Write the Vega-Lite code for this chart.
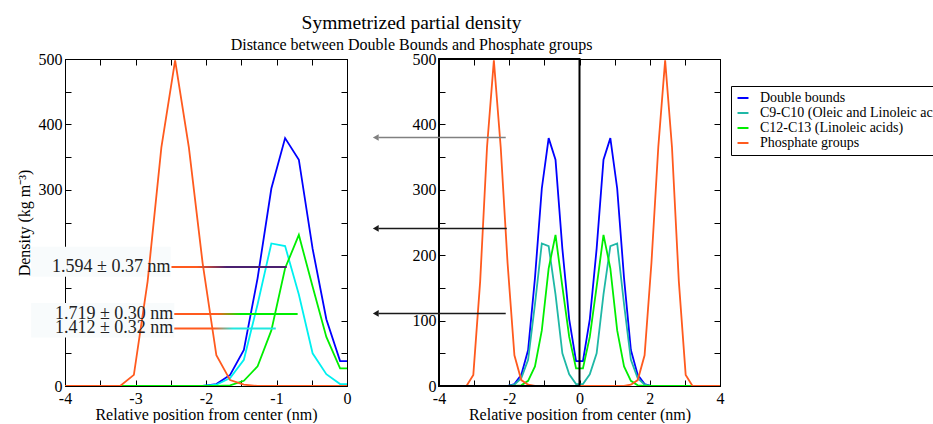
{
  "$schema": "https://vega.github.io/schema/vega-lite/v6.json",
  "background": "white",
  "padding": {"left": 15, "top": 13, "right": 0, "bottom": 0},
  "title": {
    "text": "Symmetrized partial density",
    "subtitle": "Distance between Double Bounds and Phosphate groups",
    "anchor": "start", "align": "center", "dx": 396, "frame": "bounds",
    "font": "Liberation Serif", "fontSize": 19.5, "fontWeight": "normal", "color": "black",
    "subtitleFont": "Liberation Serif", "subtitleFontSize": 16, "subtitleColor": "black", "subtitlePadding": 3,
    "offset": -3
  },
  "config": {
    "view": {"stroke": "black", "strokeWidth": 1},
    "axis": {
      "labelFont": "Liberation Serif", "labelFontSize": 16, "labelColor": "black",
      "titleFont": "Liberation Serif", "titleFontSize": 16, "titleFontWeight": "normal", "titleColor": "black",
      "domainColor": "black", "tickColor": "black", "tickSize": -6, "grid": false,
      "labelFlush": false, "labelOverlap": false
    },
    "axisX": {"labelPadding": 10},
    "axisY": {"labelPadding": 9}
  },
  "datasets": {
    "dens": [
      {"s":"Double bounds","x":-3.998,"y":0},{"s":"Double bounds","x":-3.803,"y":0},{"s":"Double bounds","x":-3.608,"y":0},{"s":"Double bounds","x":-3.413,"y":0},{"s":"Double bounds","x":-3.218,"y":0},{"s":"Double bounds","x":-3.023,"y":0},{"s":"Double bounds","x":-2.828,"y":0},{"s":"Double bounds","x":-2.633,"y":0},{"s":"Double bounds","x":-2.438,"y":0},{"s":"Double bounds","x":-2.243,"y":0},{"s":"Double bounds","x":-2.048,"y":0},{"s":"Double bounds","x":-1.853,"y":3},{"s":"Double bounds","x":-1.658,"y":17},{"s":"Double bounds","x":-1.463,"y":55},{"s":"Double bounds","x":-1.268,"y":165},{"s":"Double bounds","x":-1.073,"y":302},{"s":"Double bounds","x":-0.878,"y":379},{"s":"Double bounds","x":-0.683,"y":346},{"s":"Double bounds","x":-0.488,"y":210},{"s":"Double bounds","x":-0.293,"y":102},{"s":"Double bounds","x":-0.098,"y":38},
      {"s":"Double bounds","x":0.098,"y":38},{"s":"Double bounds","x":0.293,"y":102},{"s":"Double bounds","x":0.488,"y":210},{"s":"Double bounds","x":0.683,"y":346},{"s":"Double bounds","x":0.878,"y":379},{"s":"Double bounds","x":1.073,"y":302},{"s":"Double bounds","x":1.268,"y":165},{"s":"Double bounds","x":1.463,"y":55},{"s":"Double bounds","x":1.658,"y":17},{"s":"Double bounds","x":1.853,"y":3},{"s":"Double bounds","x":2.048,"y":0},{"s":"Double bounds","x":2.243,"y":0},{"s":"Double bounds","x":2.438,"y":0},{"s":"Double bounds","x":2.633,"y":0},{"s":"Double bounds","x":2.828,"y":0},{"s":"Double bounds","x":3.023,"y":0},{"s":"Double bounds","x":3.218,"y":0},{"s":"Double bounds","x":3.413,"y":0},{"s":"Double bounds","x":3.608,"y":0},{"s":"Double bounds","x":3.803,"y":0},{"s":"Double bounds","x":3.998,"y":0},
      {"s":"C9-C10 (Oleic and Linoleic acids)","x":-3.998,"y":0},{"s":"C9-C10 (Oleic and Linoleic acids)","x":-3.803,"y":0},{"s":"C9-C10 (Oleic and Linoleic acids)","x":-3.608,"y":0},{"s":"C9-C10 (Oleic and Linoleic acids)","x":-3.413,"y":0},{"s":"C9-C10 (Oleic and Linoleic acids)","x":-3.218,"y":0},{"s":"C9-C10 (Oleic and Linoleic acids)","x":-3.023,"y":0},{"s":"C9-C10 (Oleic and Linoleic acids)","x":-2.828,"y":0},{"s":"C9-C10 (Oleic and Linoleic acids)","x":-2.633,"y":0},{"s":"C9-C10 (Oleic and Linoleic acids)","x":-2.438,"y":0},{"s":"C9-C10 (Oleic and Linoleic acids)","x":-2.243,"y":0},{"s":"C9-C10 (Oleic and Linoleic acids)","x":-2.048,"y":0},{"s":"C9-C10 (Oleic and Linoleic acids)","x":-1.853,"y":2},{"s":"C9-C10 (Oleic and Linoleic acids)","x":-1.658,"y":12},{"s":"C9-C10 (Oleic and Linoleic acids)","x":-1.463,"y":40},{"s":"C9-C10 (Oleic and Linoleic acids)","x":-1.268,"y":125},{"s":"C9-C10 (Oleic and Linoleic acids)","x":-1.073,"y":218},{"s":"C9-C10 (Oleic and Linoleic acids)","x":-0.878,"y":214},{"s":"C9-C10 (Oleic and Linoleic acids)","x":-0.683,"y":140},{"s":"C9-C10 (Oleic and Linoleic acids)","x":-0.488,"y":50},{"s":"C9-C10 (Oleic and Linoleic acids)","x":-0.293,"y":18},{"s":"C9-C10 (Oleic and Linoleic acids)","x":-0.098,"y":3},
      {"s":"C9-C10 (Oleic and Linoleic acids)","x":0.098,"y":3},{"s":"C9-C10 (Oleic and Linoleic acids)","x":0.293,"y":18},{"s":"C9-C10 (Oleic and Linoleic acids)","x":0.488,"y":50},{"s":"C9-C10 (Oleic and Linoleic acids)","x":0.683,"y":140},{"s":"C9-C10 (Oleic and Linoleic acids)","x":0.878,"y":214},{"s":"C9-C10 (Oleic and Linoleic acids)","x":1.073,"y":218},{"s":"C9-C10 (Oleic and Linoleic acids)","x":1.268,"y":125},{"s":"C9-C10 (Oleic and Linoleic acids)","x":1.463,"y":40},{"s":"C9-C10 (Oleic and Linoleic acids)","x":1.658,"y":12},{"s":"C9-C10 (Oleic and Linoleic acids)","x":1.853,"y":2},{"s":"C9-C10 (Oleic and Linoleic acids)","x":2.048,"y":0},{"s":"C9-C10 (Oleic and Linoleic acids)","x":2.243,"y":0},{"s":"C9-C10 (Oleic and Linoleic acids)","x":2.438,"y":0},{"s":"C9-C10 (Oleic and Linoleic acids)","x":2.633,"y":0},{"s":"C9-C10 (Oleic and Linoleic acids)","x":2.828,"y":0},{"s":"C9-C10 (Oleic and Linoleic acids)","x":3.023,"y":0},{"s":"C9-C10 (Oleic and Linoleic acids)","x":3.218,"y":0},{"s":"C9-C10 (Oleic and Linoleic acids)","x":3.413,"y":0},{"s":"C9-C10 (Oleic and Linoleic acids)","x":3.608,"y":0},{"s":"C9-C10 (Oleic and Linoleic acids)","x":3.803,"y":0},{"s":"C9-C10 (Oleic and Linoleic acids)","x":3.998,"y":0},
      {"s":"C12-C13 (Linoleic acids)","x":-3.998,"y":0},{"s":"C12-C13 (Linoleic acids)","x":-3.803,"y":0},{"s":"C12-C13 (Linoleic acids)","x":-3.608,"y":0},{"s":"C12-C13 (Linoleic acids)","x":-3.413,"y":0},{"s":"C12-C13 (Linoleic acids)","x":-3.218,"y":0},{"s":"C12-C13 (Linoleic acids)","x":-3.023,"y":0},{"s":"C12-C13 (Linoleic acids)","x":-2.828,"y":0},{"s":"C12-C13 (Linoleic acids)","x":-2.633,"y":0},{"s":"C12-C13 (Linoleic acids)","x":-2.438,"y":0},{"s":"C12-C13 (Linoleic acids)","x":-2.243,"y":0},{"s":"C12-C13 (Linoleic acids)","x":-2.048,"y":0},{"s":"C12-C13 (Linoleic acids)","x":-1.853,"y":0},{"s":"C12-C13 (Linoleic acids)","x":-1.658,"y":1},{"s":"C12-C13 (Linoleic acids)","x":-1.463,"y":8},{"s":"C12-C13 (Linoleic acids)","x":-1.268,"y":30},{"s":"C12-C13 (Linoleic acids)","x":-1.073,"y":85},{"s":"C12-C13 (Linoleic acids)","x":-0.878,"y":180},{"s":"C12-C13 (Linoleic acids)","x":-0.683,"y":231},{"s":"C12-C13 (Linoleic acids)","x":-0.488,"y":152},{"s":"C12-C13 (Linoleic acids)","x":-0.293,"y":75},{"s":"C12-C13 (Linoleic acids)","x":-0.098,"y":27},
      {"s":"C12-C13 (Linoleic acids)","x":0.098,"y":27},{"s":"C12-C13 (Linoleic acids)","x":0.293,"y":75},{"s":"C12-C13 (Linoleic acids)","x":0.488,"y":152},{"s":"C12-C13 (Linoleic acids)","x":0.683,"y":231},{"s":"C12-C13 (Linoleic acids)","x":0.878,"y":180},{"s":"C12-C13 (Linoleic acids)","x":1.073,"y":85},{"s":"C12-C13 (Linoleic acids)","x":1.268,"y":30},{"s":"C12-C13 (Linoleic acids)","x":1.463,"y":8},{"s":"C12-C13 (Linoleic acids)","x":1.658,"y":1},{"s":"C12-C13 (Linoleic acids)","x":1.853,"y":0},{"s":"C12-C13 (Linoleic acids)","x":2.048,"y":0},{"s":"C12-C13 (Linoleic acids)","x":2.243,"y":0},{"s":"C12-C13 (Linoleic acids)","x":2.438,"y":0},{"s":"C12-C13 (Linoleic acids)","x":2.633,"y":0},{"s":"C12-C13 (Linoleic acids)","x":2.828,"y":0},{"s":"C12-C13 (Linoleic acids)","x":3.023,"y":0},{"s":"C12-C13 (Linoleic acids)","x":3.218,"y":0},{"s":"C12-C13 (Linoleic acids)","x":3.413,"y":0},{"s":"C12-C13 (Linoleic acids)","x":3.608,"y":0},{"s":"C12-C13 (Linoleic acids)","x":3.803,"y":0},{"s":"C12-C13 (Linoleic acids)","x":3.998,"y":0},
      {"s":"Phosphate groups","x":-3.998,"y":0},{"s":"Phosphate groups","x":-3.803,"y":0},{"s":"Phosphate groups","x":-3.608,"y":0},{"s":"Phosphate groups","x":-3.413,"y":0},{"s":"Phosphate groups","x":-3.218,"y":0},{"s":"Phosphate groups","x":-3.023,"y":17},{"s":"Phosphate groups","x":-2.828,"y":160},{"s":"Phosphate groups","x":-2.633,"y":365},{"s":"Phosphate groups","x":-2.438,"y":498},{"s":"Phosphate groups","x":-2.243,"y":365},{"s":"Phosphate groups","x":-2.048,"y":188},{"s":"Phosphate groups","x":-1.853,"y":47},{"s":"Phosphate groups","x":-1.658,"y":9},{"s":"Phosphate groups","x":-1.463,"y":2},{"s":"Phosphate groups","x":-1.268,"y":0},{"s":"Phosphate groups","x":-1.073,"y":0},{"s":"Phosphate groups","x":-0.878,"y":0},{"s":"Phosphate groups","x":-0.683,"y":0},{"s":"Phosphate groups","x":-0.488,"y":0},{"s":"Phosphate groups","x":-0.293,"y":0},{"s":"Phosphate groups","x":-0.098,"y":0},
      {"s":"Phosphate groups","x":0.098,"y":0},{"s":"Phosphate groups","x":0.293,"y":0},{"s":"Phosphate groups","x":0.488,"y":0},{"s":"Phosphate groups","x":0.683,"y":0},{"s":"Phosphate groups","x":0.878,"y":0},{"s":"Phosphate groups","x":1.073,"y":0},{"s":"Phosphate groups","x":1.268,"y":0},{"s":"Phosphate groups","x":1.463,"y":2},{"s":"Phosphate groups","x":1.658,"y":9},{"s":"Phosphate groups","x":1.853,"y":47},{"s":"Phosphate groups","x":2.048,"y":188},{"s":"Phosphate groups","x":2.243,"y":365},{"s":"Phosphate groups","x":2.438,"y":498},{"s":"Phosphate groups","x":2.633,"y":365},{"s":"Phosphate groups","x":2.828,"y":160},{"s":"Phosphate groups","x":3.023,"y":17},{"s":"Phosphate groups","x":3.218,"y":0},{"s":"Phosphate groups","x":3.413,"y":0},{"s":"Phosphate groups","x":3.608,"y":0},{"s":"Phosphate groups","x":3.803,"y":0},{"s":"Phosphate groups","x":3.998,"y":0}
    ],
    "ann": [
      {"id":"a","label":"1.594 ± 0.37 nm","x1":-2.49,"x2":-0.855,"y":182,"ylo":180.5,"yhi":183.5},
      {"id":"b","label":"1.719 ± 0.30 nm","x1":-2.45,"x2":-0.70,"y":110,"ylo":108.5,"yhi":111.5},
      {"id":"c","label":"1.412 ± 0.32 nm","x1":-2.45,"x2":-1.01,"y":88,"ylo":86.5,"yhi":89.5}
    ],
    "bg": [
      {"x1":-4.48,"x2":-2.5,"y1":167,"y2":213},
      {"x1":-4.48,"x2":-2.45,"y1":74,"y2":127}
    ],
    "arrows": [
      {"tone":"gray","y":380,"x1":-2.1,"x2":-5.72,"hx":-5.8},
      {"tone":"dark","y":241,"x1":-2.07,"x2":-5.72,"hx":-5.8},
      {"tone":"dark","y":111,"x1":-2.1,"x2":-5.72,"hx":-5.8}
    ],
    "box": [{"x1":-4,"x2":0,"y1":0,"y2":500}]
  },
  "bounds": "flush",
  "spacing": 92,
  "resolve": {"scale": {"color": "independent"}},
  "hconcat": [
    {
      "width": 282, "height": 327,
      "resolve": {"axis": {"x": "independent", "y": "independent"}},
      "layer": [
        {
          "data": {"name": "bg"},
          "mark": {"type": "rect", "color": "#f8fbfc"},
          "encoding": {
            "x": {"field": "x1", "type": "quantitative", "axis": null}, "x2": {"field": "x2"},
            "y": {"field": "y1", "type": "quantitative", "axis": null}, "y2": {"field": "y2"}
          }
        },
        {
          "data": {"name": "dens"},
          "mark": {"type": "line", "clip": true, "strokeWidth": 1.8},
          "encoding": {
            "x": {"field": "x", "type": "quantitative", "scale": {"domain": [-4, 0], "nice": false, "zero": false},
              "axis": {"orient": "bottom", "values": [-4,-3.5,-3,-2.5,-2,-1.5,-1,-0.5,0],
                "labelExpr": "datum.value % 1 === 0 ? (datum.value < 0 ? '-' + abs(datum.value) : '0') : ''",
                "title": "Relative position from center (nm)", "titlePadding": 0}},
            "y": {"field": "y", "type": "quantitative", "scale": {"domain": [0, 500], "nice": false},
              "axis": {"orient": "left", "values": [0,50,100,150,200,250,300,350,400,450,500],
                "labelExpr": "(datum.value % 100 === 0 && datum.value !== 100 && datum.value !== 200) ? '' + datum.value : ''",
                "title": "Density (kg m⁻³)", "titlePadding": 6}},
            "color": {"field": "s", "type": "nominal",
              "scale": {"domain": ["Double bounds","C9-C10 (Oleic and Linoleic acids)","C12-C13 (Linoleic acids)","Phosphate groups"],
                "range": ["#0000FF","#00F0F0","#00EE00","#FF5A1E"]},
              "legend": null}
          }
        },
        {
          "data": {"name": "box"},
          "mark": {"type": "rect", "opacity": 0},
          "encoding": {
            "x": {"field": "x1", "type": "quantitative", "axis": {"orient": "top", "values": [-4,-3.5,-3,-2.5,-2,-1.5,-1,-0.5,0], "labels": false, "title": null}},
            "x2": {"field": "x2"},
            "y": {"field": "y1", "type": "quantitative", "axis": {"orient": "right", "values": [0,50,100,150,200,250,300,350,400,450,500], "labels": false, "title": null}},
            "y2": {"field": "y2"}
          }
        },
        {
          "data": {"name": "ann"},
          "transform": [{"filter": "datum.id === 'a'"}],
          "mark": {"type": "rect", "color": {"gradient": "linear", "x1": 0, "x2": 1, "y1": 0, "y2": 0,
            "stops": [{"offset": 0, "color": "#FF5A1E"}, {"offset": 0.22, "color": "#FF5A1E"}, {"offset": 0.48, "color": "#4A2070"}, {"offset": 1, "color": "#4A2070"}]}},
          "encoding": {
            "x": {"field": "x1", "type": "quantitative", "axis": null}, "x2": {"field": "x2"},
            "y": {"field": "ylo", "type": "quantitative", "axis": null}, "y2": {"field": "yhi"}
          }
        },
        {
          "data": {"name": "ann"},
          "transform": [{"filter": "datum.id === 'b'"}],
          "mark": {"type": "rect", "color": {"gradient": "linear", "x1": 0, "x2": 1, "y1": 0, "y2": 0,
            "stops": [{"offset": 0, "color": "#FF5A1E"}, {"offset": 0.35, "color": "#FF5A1E"}, {"offset": 0.54, "color": "#00EE00"}, {"offset": 1, "color": "#00EE00"}]}},
          "encoding": {
            "x": {"field": "x1", "type": "quantitative", "axis": null}, "x2": {"field": "x2"},
            "y": {"field": "ylo", "type": "quantitative", "axis": null}, "y2": {"field": "yhi"}
          }
        },
        {
          "data": {"name": "ann"},
          "transform": [{"filter": "datum.id === 'c'"}],
          "mark": {"type": "rect", "color": {"gradient": "linear", "x1": 0, "x2": 1, "y1": 0, "y2": 0,
            "stops": [{"offset": 0, "color": "#FF5A1E"}, {"offset": 0.39, "color": "#FF5A1E"}, {"offset": 0.58, "color": "#20E8E0"}, {"offset": 1, "color": "#20E8E0"}]}},
          "encoding": {
            "x": {"field": "x1", "type": "quantitative", "axis": null}, "x2": {"field": "x2"},
            "y": {"field": "ylo", "type": "quantitative", "axis": null}, "y2": {"field": "yhi"}
          }
        },
        {
          "data": {"name": "ann"},
          "mark": {"type": "text", "align": "right", "baseline": "middle", "dx": -1, "font": "Liberation Serif", "fontSize": 18, "color": "#222"},
          "encoding": {
            "x": {"field": "x1", "type": "quantitative", "axis": null},
            "y": {"field": "y", "type": "quantitative", "axis": null},
            "text": {"field": "label"}
          }
        }
      ]
    },
    {
      "width": 281, "height": 327,
      "resolve": {"axis": {"x": "independent", "y": "independent"}},
      "layer": [
        {
          "data": {"name": "dens"},
          "mark": {"type": "line", "clip": true, "strokeWidth": 1.8},
          "encoding": {
            "x": {"field": "x", "type": "quantitative", "scale": {"domain": [-4, 4], "nice": false, "zero": false},
              "axis": {"orient": "bottom", "values": [-4,-3,-2,-1,0,1,2,3,4],
                "labelExpr": "datum.value % 2 === 0 ? (datum.value < 0 ? '-' + abs(datum.value) : '' + datum.value) : ''",
                "title": "Relative position from center (nm)", "titlePadding": 0}},
            "y": {"field": "y", "type": "quantitative", "scale": {"domain": [0, 500], "nice": false},
              "axis": {"orient": "left", "values": [0,50,100,150,200,250,300,350,400,450,500],
                "labelExpr": "datum.value % 100 === 0 ? '' + datum.value : ''", "title": null}},
            "color": {"field": "s", "type": "nominal",
              "scale": {"domain": ["Double bounds","C9-C10 (Oleic and Linoleic acids)","C12-C13 (Linoleic acids)","Phosphate groups"],
                "range": ["#0000FF","#1FB8A6","#00EE00","#FF5A1E"]},
              "legend": {"orient": "none", "legendX": 292, "legendY": 27, "title": null,
                "symbolType": "stroke", "symbolStrokeWidth": 2, "symbolSize": 120,
                "labelFont": "Liberation Serif", "labelFontSize": 14, "labelColor": "black", "labelLimit": 0,
                "strokeColor": "black", "fillColor": "white", "padding": 5, "rowPadding": 1, "labelOffset": 10}}
          }
        },
        {
          "data": {"name": "box"},
          "mark": {"type": "rect", "filled": false, "color": "black", "strokeWidth": 2},
          "encoding": {
            "x": {"field": "x1", "type": "quantitative", "axis": {"orient": "top", "values": [-4,-3,-2,-1,0,1,2,3,4], "labels": false, "title": null}},
            "x2": {"field": "x2"},
            "y": {"field": "y1", "type": "quantitative", "axis": {"orient": "right", "values": [0,50,100,150,200,250,300,350,400,450,500], "labels": false, "title": null}},
            "y2": {"field": "y2"}
          }
        },
        {
          "data": {"name": "arrows"},
          "mark": {"type": "rule", "strokeWidth": 1.5},
          "encoding": {
            "x": {"field": "x1", "type": "quantitative", "axis": null}, "x2": {"field": "x2"},
            "y": {"field": "y", "type": "quantitative", "axis": null},
            "stroke": {"field": "tone", "type": "nominal", "scale": {"domain": ["gray", "dark"], "range": ["#808080", "#1a1a1a"]}, "legend": null}
          }
        },
        {
          "data": {"name": "arrows"},
          "mark": {"type": "point", "shape": "triangle-left", "filled": true, "size": 45, "opacity": 1, "strokeWidth": 0},
          "encoding": {
            "x": {"field": "hx", "type": "quantitative", "axis": null},
            "y": {"field": "y", "type": "quantitative", "axis": null},
            "fill": {"field": "tone", "type": "nominal", "scale": {"domain": ["gray", "dark"], "range": ["#808080", "#1a1a1a"]}, "legend": null}
          }
        }
      ]
    }
  ]
}
